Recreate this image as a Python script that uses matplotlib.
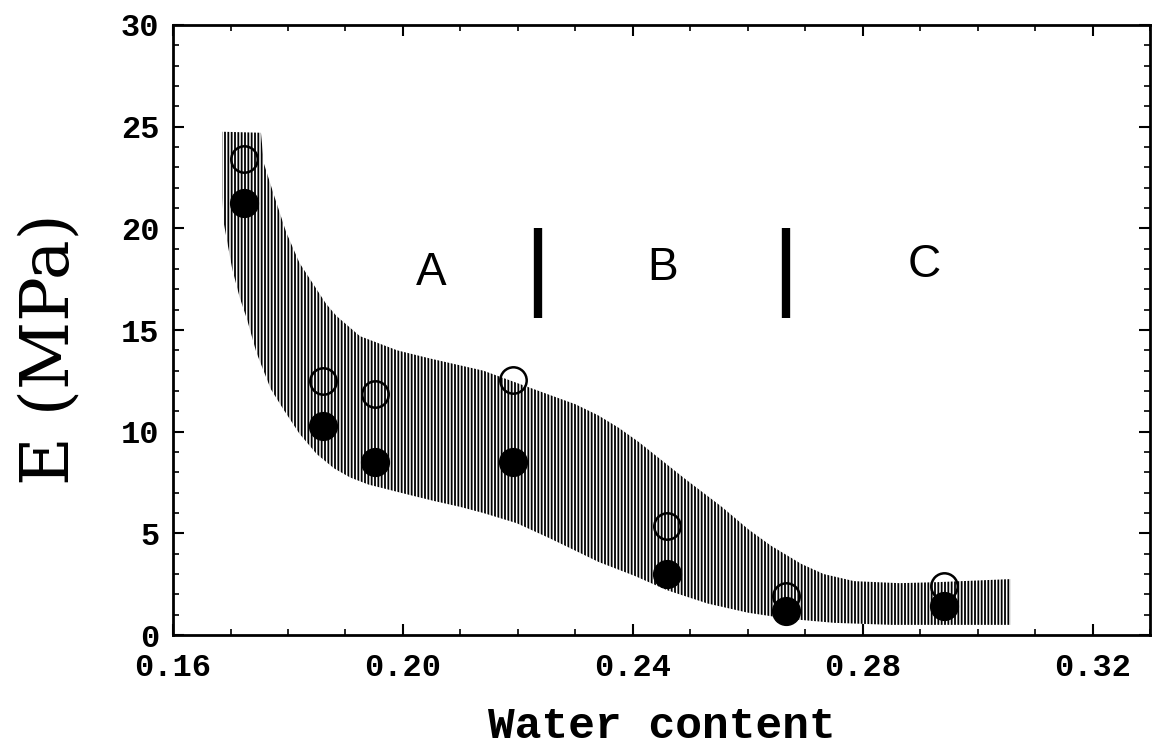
import matplotlib
matplotlib.use("Agg")
import matplotlib.pyplot as plt
import numpy as np
from matplotlib.ticker import MultipleLocator, FormatStrFormatter

# Módulo de Young frente al contenido de agua
agua_abiertos = [0.1724, 0.1861, 0.1951, 0.2191, 0.2460, 0.2667, 0.2941]
E_abiertos = [23.4, 12.5, 11.85, 12.55, 5.35, 1.9, 2.4]

agua_llenos = [0.1724, 0.1861, 0.1951, 0.2191, 0.2460, 0.2667, 0.2941]
E_llenos = [21.25, 10.3, 8.5, 8.5, 3.0, 1.2, 1.45]

# Banda rayada: borde superior e inferior
banda_sup_x = [0.1686, 0.1753, 0.1758, 0.1776, 0.1797, 0.1820, 0.1843, 0.1866,
               0.1884, 0.1925, 0.1990, 0.2047, 0.2140, 0.2198, 0.2256, 0.2300,
               0.2340, 0.2375, 0.2410, 0.2450, 0.2490, 0.2555, 0.2601, 0.2640,
               0.2693, 0.2732, 0.2785, 0.2864, 0.2930, 0.3057]
banda_sup_y = [24.75, 24.7, 23.2, 21.6, 19.8, 18.3, 17.3, 16.3,
               15.7, 14.7, 14.0, 13.6, 13.0, 12.4, 11.8, 11.35,
               10.8, 10.2, 9.5, 8.6, 7.7, 6.3, 5.2, 4.4,
               3.5, 3.0, 2.65, 2.55, 2.6, 2.75]
banda_inf_x = [0.1686, 0.1688, 0.1703, 0.1716, 0.1729, 0.1745, 0.1770, 0.1792,
               0.1820, 0.1850, 0.1880, 0.1908, 0.1940, 0.1975, 0.2010, 0.2053,
               0.2100, 0.2140, 0.2198, 0.2256, 0.2300, 0.2340, 0.2404, 0.2460,
               0.2530, 0.2600, 0.2670, 0.2750, 0.2850, 0.3057]
banda_inf_y = [21.5, 20.3, 18.0, 16.6, 15.5, 13.9, 12.1, 11.1,
               9.9, 8.9, 8.2, 7.75, 7.4, 7.15, 6.9, 6.6,
               6.3, 6.0, 5.5, 4.75, 4.15, 3.6, 2.9, 2.2,
               1.55, 1.1, 0.8, 0.6, 0.5, 0.5]

# Regiones A, B, C y separadores
regiones = ["A", "B", "C"]
regiones_x = [0.2050, 0.2452, 0.2907]
regiones_y = [17.8, 18.05, 18.2]
separadores_x = [0.2235, 0.2666]
separador_y = (15.6, 20.0)

plt.rcParams["hatch.linewidth"] = 1.3

fig = plt.figure(figsize=(11.52, 7.5), dpi=100)
ax = fig.add_axes([0.1502, 0.1533, 0.8481, 0.8134])

# Banda rayada en vertical
poli_x = np.concatenate([banda_sup_x, banda_inf_x[::-1]])
poli_y = np.concatenate([banda_sup_y, banda_inf_y[::-1]])
ax.fill(poli_x, poli_y, facecolor="none", edgecolor="black",
        linewidth=0, hatch="|||||", zorder=1)

# Puntos
ax.plot(agua_abiertos, E_abiertos, linestyle="none", marker="o",
        markersize=19, markerfacecolor="none", markeredgecolor="black",
        markeredgewidth=1.8, zorder=3)
ax.plot(agua_llenos, E_llenos, linestyle="none", marker="o",
        markersize=20, markerfacecolor="black", markeredgecolor="black",
        zorder=3)

# Separadores y letras de las regiones
for xs in separadores_x:
    ax.plot([xs, xs], separador_y, color="black", linewidth=6,
            solid_capstyle="butt", zorder=2)
for letra, xr, yr in zip(regiones, regiones_x, regiones_y):
    ax.text(xr, yr, letra, ha="center", va="center", fontsize=33,
            family="Liberation Sans", zorder=4)

ax.set_xlim(0.16, 0.33)
ax.set_ylim(0, 30)

ax.xaxis.set_major_locator(MultipleLocator(0.04))
ax.xaxis.set_minor_locator(MultipleLocator(0.01))
ax.yaxis.set_major_locator(MultipleLocator(5))
ax.yaxis.set_minor_locator(MultipleLocator(1))
ax.xaxis.set_major_formatter(FormatStrFormatter("%.2f"))
ax.yaxis.set_major_formatter(FormatStrFormatter("%d"))

ax.tick_params(which="both", direction="in", top=True, right=True,
               colors="black")
ax.tick_params(which="major", length=8, width=1.5)
ax.tick_params(which="minor", length=4.5, width=1.2)
ax.tick_params(axis="x", which="major", pad=13)
ax.tick_params(axis="y", which="major", pad=10)

for lab in ax.get_xticklabels() + ax.get_yticklabels():
    lab.set_family("Liberation Mono")
    lab.set_fontweight("bold")
    lab.set_fontsize(23)

for sp in ax.spines.values():
    sp.set_linewidth(2)

fig.text(0.5742, 0.031, "Water content", ha="center", va="center",
         fontsize=32, family="Liberation Mono", fontweight="bold")
fig.text(0.043, 0.535, "E (MPa)", ha="center", va="center", rotation=90,
         fontsize=48, family="DejaVu Serif")

fig.savefig("out.png", dpi=100)
